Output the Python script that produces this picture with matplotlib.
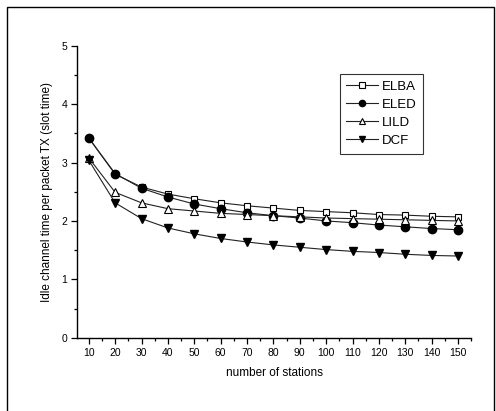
import numpy as np
import matplotlib
matplotlib.use("Agg")
import matplotlib.pyplot as plt
from matplotlib.patches import Rectangle
from matplotlib.ticker import MultipleLocator

plt.rcParams['font.family'] = ['Liberation Sans', 'DejaVu Sans']

# number of stations
stations = [10, 20, 30, 40, 50, 60, 70, 80, 90, 100, 110, 120, 130, 140, 150]

# idle channel time per packet TX (slot time)
elba = [3.42, 2.80, 2.58, 2.46, 2.38, 2.31, 2.26, 2.22, 2.18, 2.16, 2.14, 2.11, 2.10, 2.08, 2.07]
eled = [3.42, 2.81, 2.56, 2.41, 2.29, 2.21, 2.14, 2.09, 2.05, 2.00, 1.97, 1.93, 1.90, 1.87, 1.85]
lild = [3.08, 2.49, 2.31, 2.21, 2.17, 2.13, 2.11, 2.09, 2.07, 2.05, 2.04, 2.03, 2.02, 2.01, 2.00]
dcf = [3.04, 2.31, 2.04, 1.88, 1.78, 1.70, 1.64, 1.59, 1.55, 1.51, 1.48, 1.46, 1.43, 1.41, 1.40]

fig = plt.figure(figsize=(4.96, 4.11), dpi=100)
ax = fig.add_axes([0.155, 0.178, 0.795, 0.711])

lc = '#222222'
ax.plot(stations, elba, color=lc, lw=0.8, marker='s', ms=5, mfc='white', mec='black', mew=0.8, label='ELBA')
ax.plot(stations, eled, color=lc, lw=0.8, marker='o', ms=6, mfc='black', mec='black', label='ELED')
ax.plot(stations, lild, color=lc, lw=0.8, marker='^', ms=6, mfc='white', mec='black', mew=0.8, label='LILD')
ax.plot(stations, dcf, color=lc, lw=0.8, marker='v', ms=6, mfc='black', mec='black', label='DCF')

ax.set_xlim(5.5, 155)
ax.set_ylim(0, 5)
ax.set_xticks(stations)
ax.xaxis.set_minor_locator(MultipleLocator(5))
ax.yaxis.set_major_locator(MultipleLocator(1))
ax.yaxis.set_minor_locator(MultipleLocator(0.5))

for s in ['top', 'right']:
    ax.spines[s].set_visible(False)
for s in ['left', 'bottom']:
    ax.spines[s].set_linewidth(1.0)

ax.tick_params(which='major', direction='out', length=4, width=0.9, labelsize=7.5, pad=3)
ax.tick_params(which='minor', direction='out', length=2.5, width=0.9)

ax.set_xlabel('number of stations', fontsize=8.5, labelpad=7)
ax.set_ylabel('Idle channel time per packet TX (slot time)', fontsize=8.5, labelpad=6)

leg = ax.legend(loc='upper left', bbox_to_anchor=(0.667, 0.904), fontsize=9.5, frameon=True,
                fancybox=False, edgecolor='black', handlelength=2.4, handletextpad=0.3,
                labelspacing=0.45, borderpad=0.5, borderaxespad=0, markerscale=0.75)
leg.get_frame().set_linewidth(0.8)

# outer frame around the figure
frame = Rectangle((7 / 496, -0.1), 487 / 496, 1.1 - 7 / 411, transform=fig.transFigure,
                  fill=False, edgecolor='black', lw=1.0, clip_on=False)
fig.patches.append(frame)

fig.savefig('out.png', dpi=100)
